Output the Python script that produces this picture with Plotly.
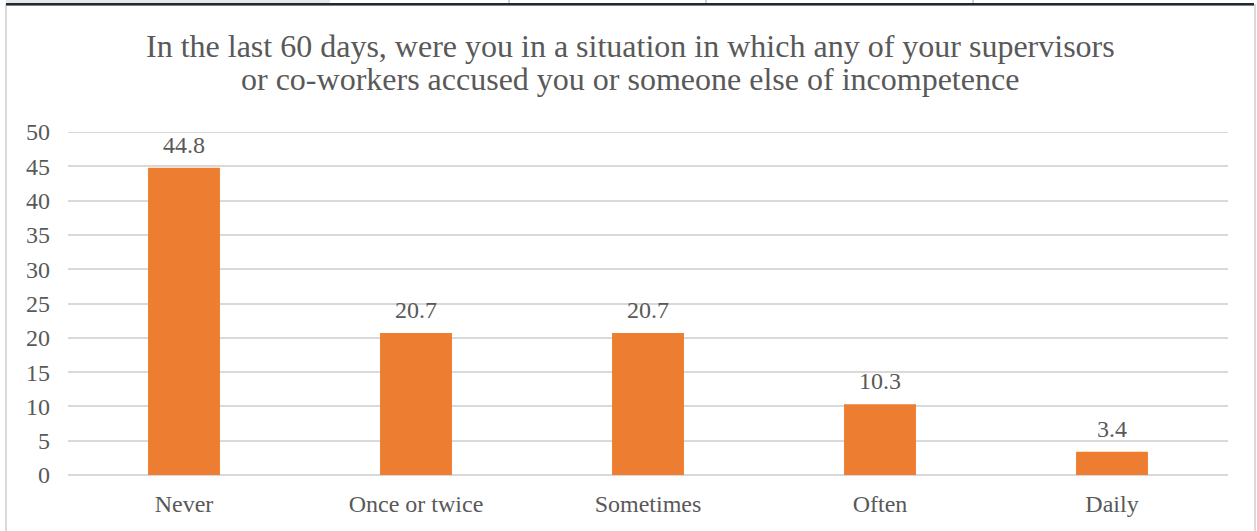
import plotly.graph_objects as go

# Survey responses (percent of respondents)
categories = ["Never", "Once or twice", "Sometimes", "Often", "Daily"]
percentages = [44.8, 20.7, 20.7, 10.3, 3.4]
tick_values = [0, 5, 10, 15, 20, 25, 30, 35, 40, 45, 50]

title_lines = [
    "In the last 60 days, were you in a situation in which any of your supervisors",
    "or co-workers accused you or someone else of incompetence",
]

BAR_COLOR = "#ED7D31"
TEXT_COLOR = "#595959"
GRID_COLOR = "#D9D9D9"
FONT = "Liberation Serif, Times New Roman, serif"

W, H = 1257, 531
L, R, T, B = 68, 29, 132, 56
PW, PH = W - L - R, H - T - B


def px_x(x):
    return (x - L) / PW


def px_y(y):
    return (H - B - y) / PH


fig = go.Figure(
    go.Bar(
        x=categories,
        y=percentages,
        marker=dict(color=BAR_COLOR, line=dict(width=0)),
        hoverinfo="x+y",
    )
)

# value labels above each bar
for cat, val in zip(categories, percentages):
    fig.add_annotation(
        x=cat, y=val, text=f"{val}", showarrow=False,
        yanchor="bottom", yshift=8,
        font=dict(family=FONT, size=24, color=TEXT_COLOR),
    )

# two-line chart title, set line by line for tight spacing
for line, cy in zip(title_lines, (46, 79)):
    fig.add_annotation(
        xref="paper", yref="paper", x=px_x(630), y=px_y(cy),
        xanchor="center", yanchor="middle", showarrow=False,
        text=line, font=dict(family=FONT, size=32, color=TEXT_COLOR),
    )

shapes = [
    # top gridline (at the edge of the axis range)
    dict(type="line", xref="paper", yref="y", x0=0, x1=1, y0=tick_values[-1], y1=tick_values[-1],
         line=dict(color=GRID_COLOR, width=2), layer="below"),
    # sheet frame around the chart
    dict(type="rect", xref="paper", yref="paper",
         x0=px_x(6), x1=px_x(1255), y0=px_y(540), y1=px_y(5),
         line=dict(color="#D9D9D9", width=2), fillcolor="rgba(0,0,0,0)", layer="below"),
    dict(type="rect", xref="paper", yref="paper",
         x0=px_x(6), x1=px_x(330), y0=px_y(3), y1=px_y(-1),
         line=dict(width=0), fillcolor="#E6E6E6"),
    dict(type="rect", xref="paper", yref="paper",
         x0=px_x(6), x1=px_x(1254), y0=px_y(5.5), y1=px_y(3),
         line=dict(width=0), fillcolor="#1E2A33"),
]
for sx in (509, 706, 973):
    shapes.append(dict(type="line", xref="paper", yref="paper",
                       x0=px_x(sx), x1=px_x(sx), y0=px_y(3), y1=px_y(-1),
                       line=dict(color="#D0D0D0", width=2)))

fig.update_layout(
    width=W, height=H,
    margin=dict(l=L, r=R, t=T, b=B, pad=0),
    paper_bgcolor="white", plot_bgcolor="white",
    bargap=0.69,
    showlegend=False,
    shapes=shapes,
    font=dict(family=FONT, color=TEXT_COLOR),
    xaxis=dict(
        showgrid=False, showline=False, zeroline=False, ticks="",
        tickfont=dict(family=FONT, size=24, color=TEXT_COLOR),
        ticklabelstandoff=12,
    ),
    yaxis=dict(
        range=[0, 50], tickvals=tick_values,
        showgrid=True, gridcolor=GRID_COLOR, gridwidth=2,
        zeroline=True, zerolinecolor=GRID_COLOR, zerolinewidth=2,
        showline=False, ticks="",
        tickfont=dict(family=FONT, size=24, color=TEXT_COLOR),
        ticklabelstandoff=17,
    ),
)

fig.write_html("out.html")
